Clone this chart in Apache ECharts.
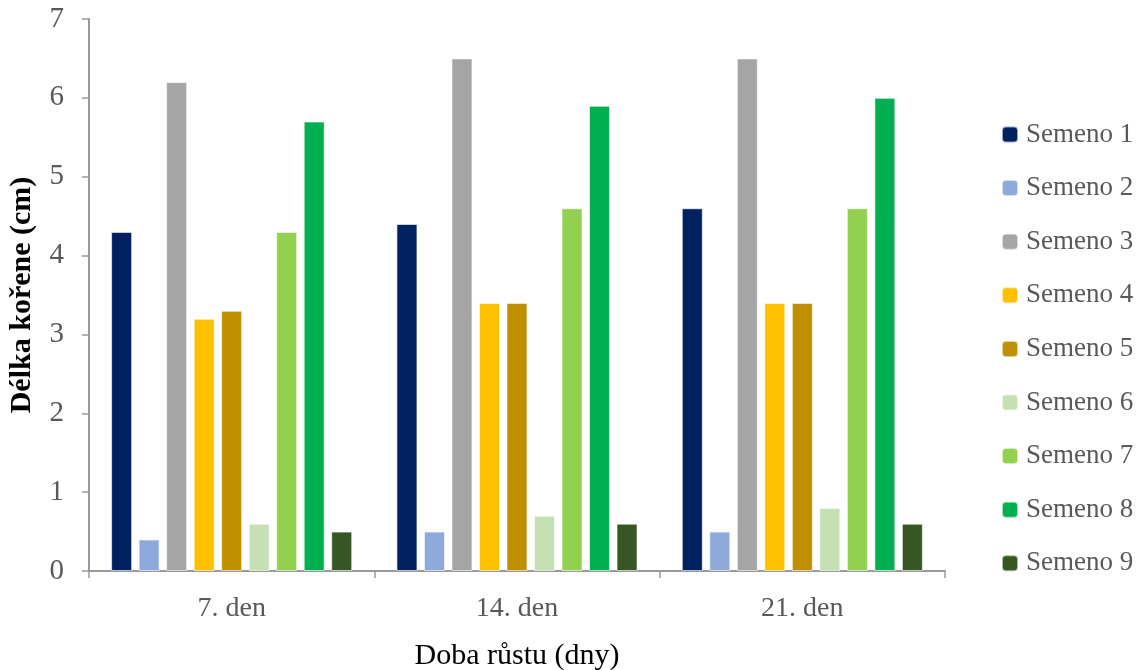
<!DOCTYPE html>
<html><head><meta charset="utf-8">
<script src="https://cdn.jsdelivr.net/npm/echarts@6/dist/echarts.min.js"></script>
<style>html,body{margin:0;padding:0;background:#fff}#c{width:1147px;height:670px}</style>
</head><body><div id="c"></div>
<script>
const categories = ['7. den', '14. den', '21. den'];
const seriesNames = ['Semeno 1','Semeno 2','Semeno 3','Semeno 4','Semeno 5','Semeno 6','Semeno 7','Semeno 8','Semeno 9'];
const semeno1 = [4.3, 4.4, 4.6];
const semeno2 = [0.4, 0.5, 0.5];
const semeno3 = [6.2, 6.5, 6.5];
const semeno4 = [3.2, 3.4, 3.4];
const semeno5 = [3.3, 3.4, 3.4];
const semeno6 = [0.6, 0.7, 0.8];
const semeno7 = [4.3, 4.6, 4.6];
const semeno8 = [5.7, 5.9, 6.0];
const semeno9 = [0.5, 0.6, 0.6];
const colors = ['#002060','#8EA9DB','#A5A5A5','#FFC000','#BF8F00','#C6E0B4','#92D050','#00B050','#375623'];
const allData = [semeno1, semeno2, semeno3, semeno4, semeno5, semeno6, semeno7, semeno8, semeno9];

const font = 'Liberation Serif';
const chart = echarts.init(document.getElementById('c'));
chart.setOption({
  animation: false,
  textStyle: { fontFamily: font },
  grid: { left: 89, right: 202, top: 19, bottom: 99, containLabel: false, outerBoundsMode: 'none' },
  legend: {
    orient: 'vertical', left: 996, top: 116, itemGap: 26.6,
    itemWidth: 16, itemHeight: 16,
    textStyle: { fontFamily: font, fontSize: 27, color: '#595959', padding: [0,0,0,3] },
    data: seriesNames
  },
  xAxis: {
    type: 'category', data: categories,
    name: 'Doba růstu (dny)', nameLocation: 'middle', nameGap: 70,
    nameTextStyle: { fontFamily: font, fontSize: 30, color: '#000' },
    axisLine: { lineStyle: { color: '#9a9a9a', width: 2 } },
    axisTick: { show: true, length: 7, lineStyle: { color: '#9a9a9a', width: 1.5 } },
    axisLabel: { fontFamily: font, fontSize: 28, color: '#595959', margin: 24 }
  },
  yAxis: {
    type: 'value', min: 0, max: 7, interval: 1,
    name: 'Délka kořene (cm)', nameLocation: 'middle', nameGap: 52, nameRotate: 90,
    nameTextStyle: { fontFamily: font, fontSize: 30, color: '#000', fontWeight: 'bold' },
    axisLine: { show: true, lineStyle: { color: '#9a9a9a', width: 2 } },
    axisTick: { show: true, length: 7, lineStyle: { color: '#9a9a9a', width: 1.5 } },
    splitLine: { show: false },
    axisLabel: { fontFamily: font, fontSize: 29, color: '#595959', margin: 25 }
  },
  series: seriesNames.map((n, i) => ({
    name: n, type: 'bar', data: allData[i],
    barWidth: 21, barGap: '31%',
    itemStyle: { color: colors[i], borderColor: 'rgba(255,255,255,0.6)', borderWidth: 1 }
  }))
});
</script></body></html>
